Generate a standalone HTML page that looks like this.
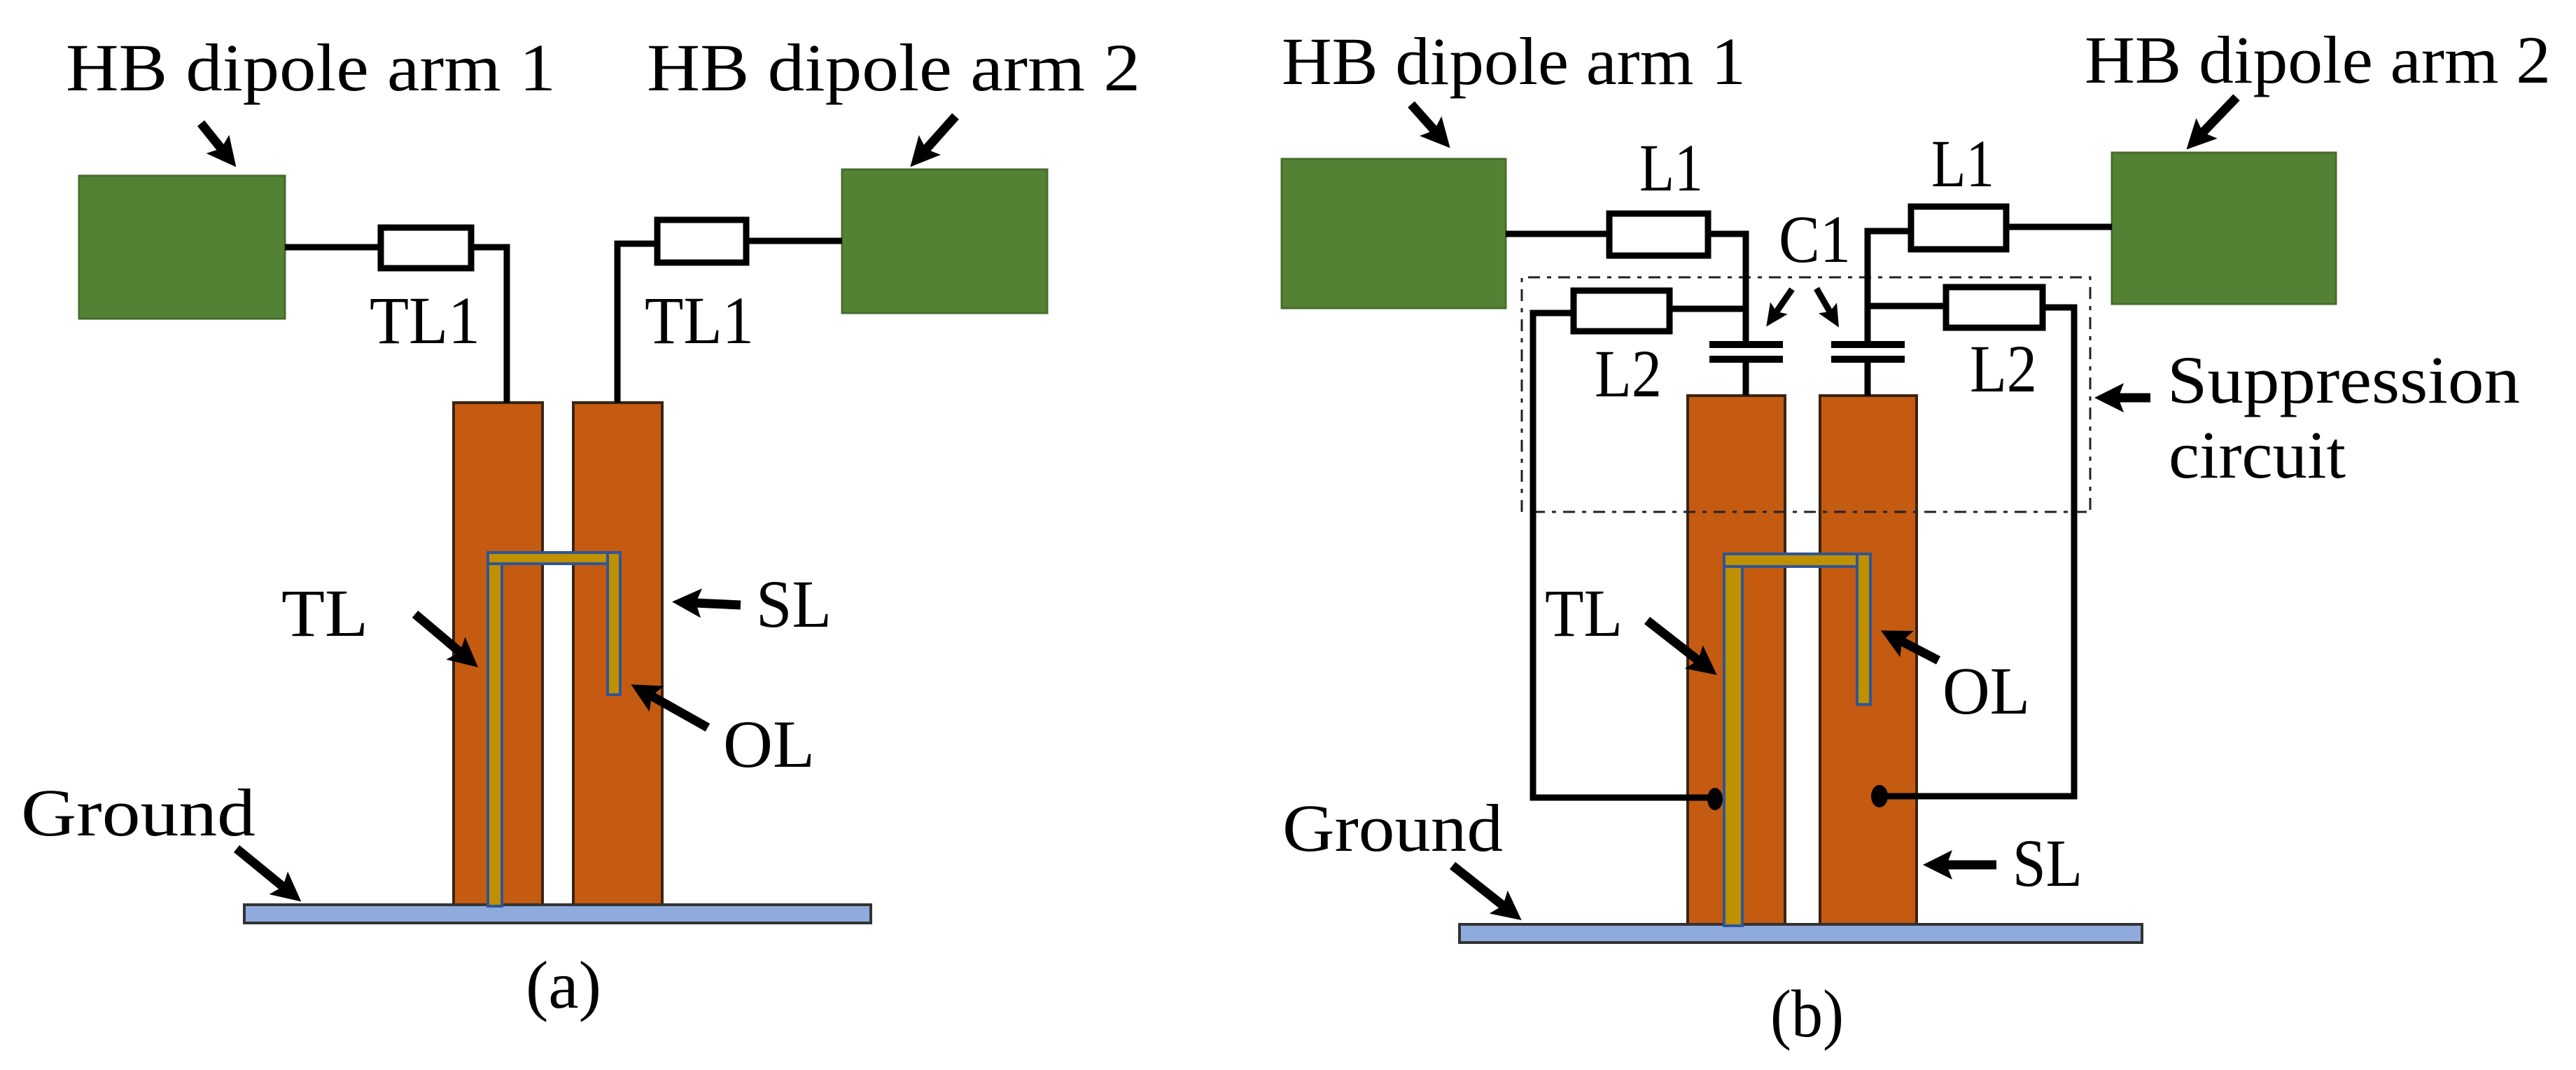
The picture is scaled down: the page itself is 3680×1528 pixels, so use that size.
<!DOCTYPE html>
<html>
<head>
<meta charset="utf-8">
<style>
html,body{margin:0;padding:0;background:#fff;width:3680px;height:1528px;overflow:hidden}
svg{display:block}
text{font-family:"Liberation Serif",serif;font-size:96px;fill:#000}
.w{fill:none;stroke:#000;stroke-width:9}
.r{fill:#fff;stroke:#000;stroke-width:9}
.g{fill:#548235;stroke:#466d2c;stroke-width:3}
.o{fill:#c55a11;stroke:#3a2410;stroke-width:4}
.b{fill:#8faadc;stroke:#333;stroke-width:4}
.t{fill:#bf9000;stroke:#2f5597;stroke-width:4}
.a{stroke:#000;stroke-width:13;marker-end:url(#h)}
.s{stroke:#000;stroke-width:9;marker-end:url(#hs)}
.d{fill:none;stroke:#222;stroke-width:3;stroke-dasharray:17 10 6 10}
</style>
</head>
<body>
<svg width="3680" height="1528" viewBox="0 0 3680 1528" xmlns="http://www.w3.org/2000/svg">
<defs>
<marker id="h" markerUnits="userSpaceOnUse" markerWidth="48" markerHeight="48" viewBox="0 0 48 48" refX="8" refY="24" orient="auto"><path d="M0,3 L42,24 L0,45 L8,24 Z" fill="#000"/></marker>
<marker id="hs" markerUnits="userSpaceOnUse" markerWidth="36" markerHeight="36" viewBox="0 0 36 36" refX="6" refY="18" orient="auto"><path d="M0,3 L32,18 L0,33 L6,18 Z" fill="#000"/></marker>
</defs>

<!-- (a) -->
<rect class="g" x="113" y="251" width="294" height="204"/>
<rect class="g" x="1203" y="242" width="293" height="205"/>
<rect class="o" x="648" y="575" width="127" height="718"/>
<rect class="o" x="819" y="575" width="127" height="718"/>
<rect class="b" x="349" y="1292" width="895" height="26"/>
<rect class="t" x="697" y="789" width="20" height="505"/>
<rect class="t" x="868" y="789" width="18" height="203"/>
<rect class="t" x="697" y="789" width="171" height="16"/>
<path class="w" d="M407,353H540M677,353H724V575"/>
<path class="w" d="M1203,344H1070M935,348H882V575"/>
<rect class="r" x="544" y="325" width="129" height="58"/>
<rect class="r" x="939" y="314" width="127" height="61"/>

<line class="a" x1="287" y1="176" x2="316" y2="212"/>
<line class="a" x1="1365" y1="166" x2="1323" y2="213"/>
<line class="a" x1="593" y1="877" x2="657" y2="931"/>
<line class="a" x1="1058" y1="864" x2="994" y2="861"/>
<line class="a" x1="1011" y1="1039" x2="931" y2="994"/>
<line class="a" x1="338" y1="1212" x2="404" y2="1266"/>

<text x="94" y="129" textLength="700" lengthAdjust="spacingAndGlyphs">HB dipole arm 1</text>
<text x="924" y="129" textLength="705" lengthAdjust="spacingAndGlyphs">HB dipole arm 2</text>
<text x="528" y="490" textLength="158" lengthAdjust="spacingAndGlyphs">TL1</text>
<text x="921" y="490" textLength="156" lengthAdjust="spacingAndGlyphs">TL1</text>
<text x="402" y="908" textLength="124" lengthAdjust="spacingAndGlyphs">TL</text>
<text x="1080" y="895" textLength="108" lengthAdjust="spacingAndGlyphs">SL</text>
<text x="1033" y="1095" textLength="131" lengthAdjust="spacingAndGlyphs">OL</text>
<text x="30" y="1193" textLength="335" lengthAdjust="spacingAndGlyphs">Ground</text>
<text x="751" y="1439" textLength="108" lengthAdjust="spacingAndGlyphs">(a)</text>

<!-- (b) -->
<rect class="g" x="1831" y="227" width="320" height="213"/>
<rect class="g" x="3017" y="218" width="320" height="216"/>
<rect class="o" x="2411" y="565" width="139" height="755"/>
<rect class="o" x="2600" y="565" width="138" height="755"/>
<rect class="b" x="2085" y="1320" width="975" height="26"/>
<rect class="t" x="2463" y="791" width="26" height="531"/>
<rect class="t" x="2653" y="791" width="19" height="215"/>
<rect class="t" x="2463" y="791" width="190" height="18"/>

<path class="d" d="M2174,731V396H2986V731M2190,731H2986"/>

<path class="w" d="M2151,334H2295M2444,334H2494V491"/>
<path class="w" d="M3017,324H2870M2726,330H2668V491"/>
<path class="w" d="M2494,441H2389M2244,447H2190V1139H2450"/>
<path class="w" d="M2668,437H2776M2922,439H2963V1137H2685"/>
<path class="w" d="M2494,513V565M2668,513V565"/>
<path class="w" style="stroke-width:10" d="M2442,492H2547M2442,513H2547M2616,492H2721M2616,513H2721"/>
<ellipse cx="2450" cy="1141" rx="11" ry="16" fill="#000"/>
<ellipse cx="2685" cy="1137" rx="12" ry="16" fill="#000"/>
<rect class="r" x="2299" y="305" width="141" height="60"/>
<rect class="r" x="2730" y="295" width="136" height="61"/>
<rect class="r" x="2248" y="415" width="137" height="58"/>
<rect class="r" x="2780" y="410" width="138" height="58"/>

<line class="a" x1="2016" y1="149" x2="2049" y2="186"/>
<line class="a" x1="3195" y1="139" x2="3147" y2="189"/>
<line class="s" x1="2560" y1="413" x2="2538" y2="445"/>
<line class="s" x1="2595" y1="412" x2="2614" y2="445"/>
<line class="a" x1="3072" y1="568" x2="3026" y2="568"/>
<line class="a" x1="2353" y1="886" x2="2426" y2="943"/>
<line class="a" x1="2769" y1="943" x2="2717" y2="916"/>
<line class="a" x1="2852" y1="1235" x2="2781" y2="1235"/>
<line class="a" x1="2075" y1="1236" x2="2147" y2="1293"/>

<text x="1831" y="120" textLength="663" lengthAdjust="spacingAndGlyphs">HB dipole arm 1</text>
<text x="2978" y="118" textLength="666" lengthAdjust="spacingAndGlyphs">HB dipole arm 2</text>
<text x="2342" y="272" textLength="91" lengthAdjust="spacingAndGlyphs">L1</text>
<text x="2759" y="266" textLength="90" lengthAdjust="spacingAndGlyphs">L1</text>
<text x="2541" y="374" textLength="103" lengthAdjust="spacingAndGlyphs">C1</text>
<text x="2278" y="566" textLength="96" lengthAdjust="spacingAndGlyphs">L2</text>
<text x="2814" y="559" textLength="96" lengthAdjust="spacingAndGlyphs">L2</text>
<text x="3096" y="575" textLength="504" lengthAdjust="spacingAndGlyphs">Suppression</text>
<text x="3098" y="682" textLength="253" lengthAdjust="spacingAndGlyphs">circuit</text>
<text x="2207" y="908" textLength="111" lengthAdjust="spacingAndGlyphs">TL</text>
<text x="2775" y="1019" textLength="125" lengthAdjust="spacingAndGlyphs">OL</text>
<text x="2875" y="1265" textLength="100" lengthAdjust="spacingAndGlyphs">SL</text>
<text x="1832" y="1215" textLength="315" lengthAdjust="spacingAndGlyphs">Ground</text>
<text x="2529" y="1480" textLength="105" lengthAdjust="spacingAndGlyphs">(b)</text>
</svg>
</body>
</html>
